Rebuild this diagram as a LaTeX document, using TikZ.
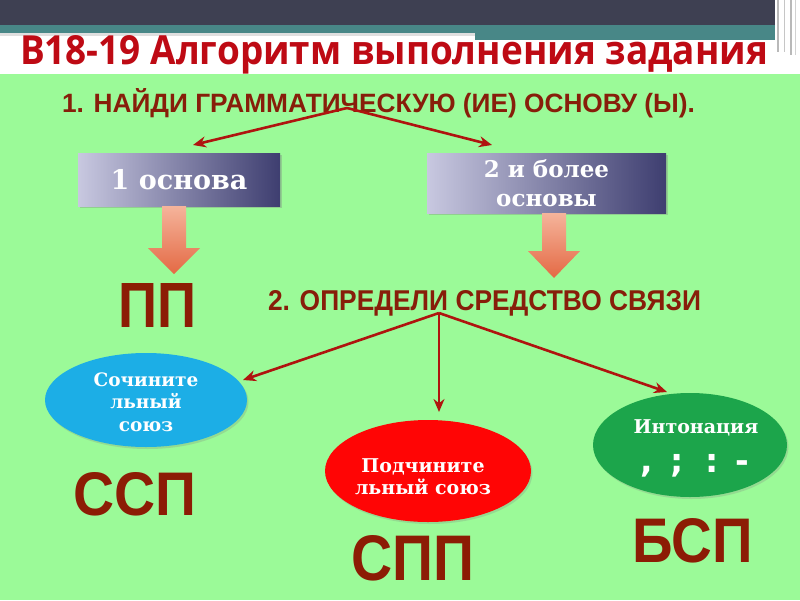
\documentclass[tikz,border=0pt]{standalone}
\usepackage{fontspec}
\usepackage{graphicx}
\setmainfont{DejaVu Serif}
\newfontfamily\titlefont{Open Sans}
\newfontfamily\capsfont{Liberation Sans}
\newfontfamily\symfont{DejaVu Sans}
\usetikzlibrary{shapes.geometric,arrows.meta,shadows}
\definecolor{bgGreen}{RGB}{155,250,152}
\definecolor{barDark}{RGB}{62,64,82}
\definecolor{barTeal}{RGB}{72,135,135}
\definecolor{titleRed}{RGB}{190,10,20}
\definecolor{headBrown}{RGB}{135,30,10}
\definecolor{bigBrown}{RGB}{140,28,5}
\definecolor{arrowRed}{RGB}{175,20,15}
\definecolor{boxLight}{RGB}{200,200,224}
\definecolor{boxDark}{RGB}{62,62,112}
\definecolor{fatTop}{RGB}{245,180,155}
\definecolor{fatBot}{RGB}{228,105,68}
\definecolor{ellBlue}{RGB}{28,174,230}
\definecolor{ellRed}{RGB}{255,5,5}
\definecolor{ellGreen}{RGB}{28,165,75}
\tikzset{
  conn/.style={draw=arrowRed, line width=2.6pt, -{Stealth[length=13pt,width=11pt]}},
  gradbox/.style={rectangle, left color=boxLight, right color=boxDark, text=white,
    inner sep=0pt, align=center,
    drop shadow={opacity=.35, shadow xshift=2pt, shadow yshift=-2pt}},
  oval/.style={ellipse, inner sep=0pt, draw=none,
    drop shadow={opacity=.25, shadow xshift=1.5pt, shadow yshift=-2pt}},
  lbl/.style={inner sep=0pt, outer sep=0pt},
  ovaltext/.style={lbl, text=white, align=center},
  bigabbr/.style={lbl, anchor=base west, text=bigBrown, font=\capsfont\bfseries},
  headline/.style={lbl, anchor=base west, text=headBrown, font=\capsfont\bfseries},
  fatarrow/.style={top color=fatTop, bottom color=fatBot},
}
\newcommand\fatarrowpath[6]{% x, ytop, yhead, ytip, shaft half width, head half width
  \shade[fatarrow] (#1-#5,#2) -- (#1+#5,#2) -- (#1+#5,#3) -- (#1+#6,#3) -- (#1,#4)
    -- (#1-#6,#3) -- (#1-#5,#3) -- cycle;}
\begin{document}
\begin{tikzpicture}[x=1pt,y=-1pt]
\useasboundingbox (0,0) rectangle (800,600);
% background and header
\fill[white] (0,0) rectangle (800,74);
\fill[barDark] (0,0) rectangle (775,25);
\fill[barTeal] (0,25) rectangle (775,33);
\fill[barTeal] (475,33) rectangle (775,40);
\fill[gray!25] (0,33) rectangle (475,36);
\fill[gray!55] (777,0) rectangle (779,52);
\fill[gray!45] (784,0) rectangle (785,52);
\fill[gray!55] (790,0) rectangle (792,55);
\fill[gray!35] (795,0) rectangle (796,55);
\fill[bgGreen] (0,74) rectangle (800,600);

% title
\node[lbl, anchor=base west, text=titleRed, font=\titlefont\bfseries] (title) at (20,64)
  {\resizebox{748pt}{29pt}{B18-19 Алгоритм выполнения задания}};

% step 1
\node[headline] (find) at (62,112)
  {\resizebox{633pt}{24pt}{1. НАЙДИ ГРАММАТИЧЕСКУЮ (ИЕ) ОСНОВУ (Ы).}};
\coordinate (hub1) at (347,108);
\coordinate (tip1L) at (193,145);
\coordinate (tip1R) at (492,145);
\draw[conn] (hub1) -- (tip1L);
\draw[conn] (hub1) -- (tip1R);

% boxes
\node[gradbox, minimum width=202pt, minimum height=53pt,
      font=\fontsize{27}{29}\bfseries\selectfont] (box1) at (179,179.5) {1 основа};
\node[gradbox, minimum width=239pt, minimum height=60pt,
      font=\fontsize{23}{29}\bfseries\selectfont] (box2) at (546.5,183) {2 и более\\основы};

% fat arrows
\fatarrowpath{174}{206}{248}{274}{12}{26}
\fatarrowpath{554}{213}{251}{278}{12}{26}

% results of step 1
\node[bigabbr] (pp) at (118,327) {\resizebox{78pt}{44pt}{ПП}};

% step 2
\node[headline] (define) at (268,310)
  {\resizebox{433pt}{20pt}{2. ОПРЕДЕЛИ СРЕДСТВО СВЯЗИ}};
\coordinate (hub2) at (439,313);

% ellipses
\node[oval, fill=ellBlue, minimum width=202pt, minimum height=94pt] (coord) at (146,400) {};
\node[oval, fill=ellRed, minimum width=206pt, minimum height=102pt] (subord) at (428,471) {};
\node[oval, fill=ellGreen, minimum width=194pt, minimum height=104pt] (intonation) at (690,445) {};

\coordinate (tip2L) at (243,380);
\coordinate (tip2M) at (439,412);
\coordinate (tip2R) at (667,392);
\draw[conn] (hub2) -- (tip2L);
\draw[conn] (hub2) -- (tip2M);
\draw[conn] (hub2) -- (tip2R);

\node[ovaltext, font=\fontsize{18.5}{22.5}\bfseries\selectfont] (coordT) at (146,402)
  {Сочините\\льный\\союз};
\node[ovaltext, font=\fontsize{19}{22}\bfseries\selectfont] (subordT) at (423,477)
  {Подчините\\льный союз};
\node[ovaltext, anchor=base, font=\fontsize{19}{22}\bfseries\selectfont] (intonT) at (696,433)
  {Интонация};
\node[lbl, anchor=base west, text=white, font=\symfont\fontsize{33}{35}\bfseries\selectfont] (punct) at (647,472)
  {\makebox[0pt]{,}\hspace{30pt}\makebox[0pt]{;}\hspace{35pt}\makebox[0pt]{:}\hspace{30pt}\makebox[0pt]{-}};

% abbreviations
\node[bigabbr] (ssp) at (73,515) {\resizebox{123pt}{43pt}{ССП}};
\node[bigabbr] (spp) at (351,580) {\resizebox{123pt}{45pt}{СПП}};
\node[bigabbr] (bsp) at (632,562) {\resizebox{121pt}{44pt}{БСП}};
\end{tikzpicture}
\end{document}
